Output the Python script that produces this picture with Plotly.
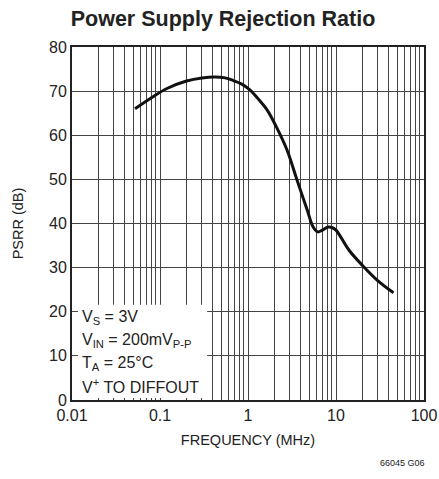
import plotly.graph_objects as go

freq_mhz = [0.052, 0.08, 0.12, 0.2, 0.3, 0.42, 0.55, 0.68, 0.85, 1.05, 1.3, 1.64, 2.1, 2.77,
            3.6, 4.7, 5.5, 6.2, 7.0, 8.1, 9.0, 10.0, 14, 20, 30, 45]
psrr_db = [66, 68.5, 70.6, 72.3, 73.0, 73.2, 73.0, 72.4, 71.6, 70.3, 68.3, 65.8, 61.9, 56.7,
           49.9, 43.1, 39.2, 38.1, 38.5, 39.2, 39.1, 38.5, 34, 30.5, 27, 24.3]

y_ticks = [0, 10, 20, 30, 40, 50, 60, 70, 80]
x_decades = [0.01, 0.1, 1, 10, 100]
x_decade_labels = ["0.01", "0.1", "1", "10", "100"]

x_tickvals = []
x_ticktext = []
for d, lab in zip(x_decades, x_decade_labels):
    x_tickvals.append(d)
    x_ticktext.append(lab)
    if d < 100:
        for m in range(2, 10):
            x_tickvals.append(d * m)
            x_ticktext.append("")

FONT = "Liberation Sans Narrow, Liberation Sans, Arial, sans-serif"

fig = go.Figure()
fig.add_trace(go.Scatter(x=freq_mhz, y=psrr_db, mode="lines",
                         line=dict(color="#111111", width=3, shape="spline", smoothing=1.0),
                         hoverinfo="skip", showlegend=False))

fig.update_layout(
    width=439, height=479,
    margin=dict(l=72, r=15, t=47, b=79, autoexpand=False),
    paper_bgcolor="white", plot_bgcolor="white",
    font=dict(family=FONT, color="#222222", size=16),
    title=dict(text="<b>Power Supply Rejection Ratio</b>", x=0.508, xanchor="center",
               y=0.962, yanchor="middle", font=dict(family=FONT, size=21.5, color="#222222")),
    showlegend=False,
)
fig.update_xaxes(type="log", range=[-2, 2], tickvals=x_tickvals, ticktext=x_ticktext,
                 automargin=False,
                 showgrid=True, gridcolor="#444444", gridwidth=1,
                 showline=True, linecolor="#222222", linewidth=2, mirror=True,
                 ticks="", zeroline=False,
                 title=dict(text="FREQUENCY (MHz)", font=dict(size=14.5), standoff=12),
                 tickfont=dict(size=16))
fig.update_yaxes(range=[0, 80], tickvals=y_ticks, automargin=False,
                 showgrid=True, gridcolor="#444444", gridwidth=1,
                 showline=True, linecolor="#222222", linewidth=2, mirror=True,
                 ticks="", zeroline=False,
                 title=dict(text="PSRR (dB)", font=dict(size=14.5), standoff=22),
                 tickfont=dict(size=16))

fig.add_shape(type="rect", xref="x domain", yref="y domain",
              x0=0.017, x1=0.384, y0=0.006, y1=0.27,
              fillcolor="white", line=dict(width=0), layer="above")

cond_lines = ["V<sub>S</sub> = 3V",
              "V<sub>IN</sub> = 200mV<sub>P-P</sub>",
              "T<sub>A</sub> = 25°C",
              "V<sup>+</sup> TO DIFFOUT"]
cond_ypos = [0.235, 0.168, 0.102, 0.04]
for txt, yy in zip(cond_lines, cond_ypos):
    fig.add_annotation(text=txt, xref="x domain", yref="y domain", x=0.022, y=yy,
                       xanchor="left", yanchor="middle", showarrow=False,
                       font=dict(family=FONT, size=16, color="#222222"))

fig.add_annotation(text="66045 G06", xref="paper", yref="paper", x=1.0, y=-0.178,
                   xanchor="right", yanchor="middle", showarrow=False, xshift=3,
                   font=dict(family=FONT, size=9, color="#222222"))

fig.write_html("out.html", config={"displayModeBar": False},
               post_script="document.body.style.margin='0';document.body.style.overflow='hidden';")
